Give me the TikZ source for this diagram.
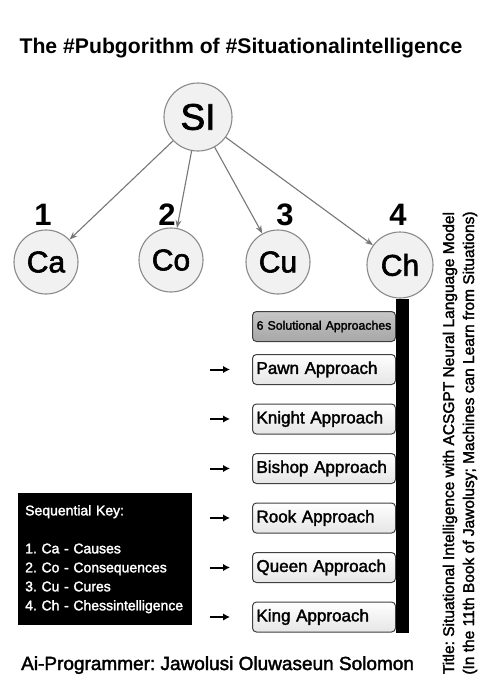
\documentclass[tikz,border=0pt]{standalone}
\usepackage{fontspec}
\setmainfont{Liberation Sans}
\newfontfamily\medfont{Liberation Sans}[FakeBold=2]
\usetikzlibrary{arrows.meta,positioning}
\definecolor{ringgray}{HTML}{8A8A8A}
\definecolor{ballfill}{HTML}{F1F1F1}
\definecolor{edgegray}{HTML}{777777}
\tikzset{
  ball/.style={circle, draw=ringgray, fill=ballfill, line width=1.1pt,
    minimum size=64pt, inner sep=0pt, font=\medfont\fontsize{30}{30}\selectfont},
  num/.style={font=\bfseries\fontsize{31}{31}\selectfont, inner sep=0pt, anchor=base},
  edge/.style={draw=edgegray, line width=1.1pt, -{Stealth[length=8pt,width=6pt]}},
  appr/.style={draw=black!75, rounded corners=4pt, line width=1pt,
    top color=white, bottom color=black!10, minimum height=30pt,
    text width=135pt, inner xsep=4pt, align=left,
    font=\medfont\fontsize{17}{18}\selectfont},
  solbox/.style={appr, top color=black!22, bottom color=black!35,
    text width=141pt, inner xsep=1pt, align=center,
    font=\medfont\fontsize{12.3}{13}\selectfont},
  pointer/.style={line width=2pt, -{Latex[length=7pt,width=7.5pt]}},
}

\begin{document}
\frenchspacing
\begin{tikzpicture}[x=1pt,y=-1pt]
\fill[white] (0,0) rectangle (481,680);
\useasboundingbox (0,0) rectangle (481,680);

% heading
\node[font=\bfseries\fontsize{21.2}{24}\selectfont, anchor=base] (title) at (241,53)
  {The \#Pubgorithm of \#Situationalintelligence};

% the tree
\node[ball, minimum size=68pt, font=\medfont\fontsize{37}{37}\selectfont] (si) at (198,117) {SI};
\node[ball] (ca) at (46,262) {Ca};
\node[ball] (co) at (171,260) {Co};
\node[ball] (cu) at (278,262) {Cu};
\node[ball, minimum size=66pt] (ch) at (400,265) {Ch};

\node[num] (n1) at (43,225) {1};
\node[num] (n2) at (167,225) {2};
\node[num] (n3) at (285,225) {3};
\node[num] (n4) at (398,225) {4};

\draw[edge] (si) -- (ca);
\draw[edge] (si) -- (co);
\draw[edge] (si) -- (cu);
\draw[edge] (si) -- (ch);

% approaches
\node[solbox, anchor=north west] (sol) at (252,311) {6 Solutional Approaches};
\node[appr, below=12pt of sol] (pawn) {Pawn Approach};
\node[appr, below=18.5pt of pawn] (knight) {Knight Approach};
\node[appr, below=18.5pt of knight] (bishop) {Bishop Approach};
\node[appr, below=18.5pt of bishop] (rook) {Rook Approach};
\node[appr, below=18.5pt of rook] (queen) {Queen Approach};
\node[appr, below=18.5pt of queen] (king) {King Approach};

\fill (sol.east |- ch.south) rectangle ([xshift=13pt]king.south east);

\draw[pointer] ([xshift=-42pt]pawn.west) -- ([xshift=-22pt]pawn.west);
\draw[pointer] ([xshift=-42pt]knight.west) -- ([xshift=-22pt]knight.west);
\draw[pointer] ([xshift=-42pt]bishop.west) -- ([xshift=-22pt]bishop.west);
\draw[pointer] ([xshift=-42pt]rook.west) -- ([xshift=-22pt]rook.west);
\draw[pointer] ([xshift=-42pt]queen.west) -- ([xshift=-22pt]queen.west);
\draw[pointer] ([xshift=-42pt]king.west) -- ([xshift=-22pt]king.west);

% key
\node[fill=black, text=white, anchor=north west, minimum width=174pt,
  minimum height=132pt, text width=160pt, inner xsep=7pt, align=left,
  font=\medfont\fontsize{14}{19}\selectfont] (key) at (18,493)
  {Sequential Key:\\[19pt]
   1. Ca - Causes\\
   2. Co - Consequences\\
   3. Cu - Cures\\
   4. Ch - Chessintelligence};

\node[font=\medfont\fontsize{19}{20}\selectfont, anchor=base west, inner sep=0pt] (prog) at (21,670)
  {Ai-Programmer: Jawolusi Oluwaseun Solomon};

\node[rotate=90, align=center, font=\medfont\fontsize{15.5}{20}\selectfont] (booktitle) at (460,443)
  {Title: Situational Intelligence with ACSGPT Neural Language Model\\
   (In the 11th Book of Jawolusy; Machines can Learn from Situations)};
\end{tikzpicture}
\end{document}
